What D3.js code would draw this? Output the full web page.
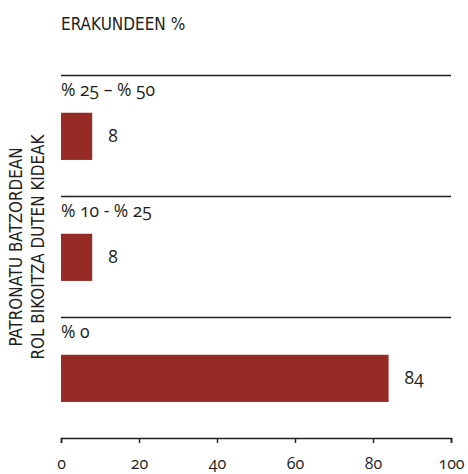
<!DOCTYPE html>
<html>
<head>
<meta charset="utf-8">
<script src="https://cdn.jsdelivr.net/npm/d3@7"></script>
<style>
  html, body { margin: 0; padding: 0; background: #fff; }
  svg { display: block; }
  .num { font-family: "Open Sans", "Noto Sans", sans-serif; font-variant-numeric: oldstyle-nums; font-feature-settings: "onum" 1; }
  .cond { font-family: "Liberation Sans Narrow", "DejaVu Sans Condensed", "Liberation Sans", sans-serif; }
</style>
</head>
<body>
<svg id="chart" width="468" height="474"></svg>
<script>
const categories = ["% 25 – % 50", "% 10 - % 25", "% 0"];
const values = [8, 8, 84];
const tickValues = [0, 20, 40, 60, 80, 100];
const title = "ERAKUNDEEN %";
const yTitle = ["PATRONATU BATZORDEAN", "ROL BIKOITZA DUTEN KIDEAK"];

(function () {
const svg = d3.select("#chart");
const mLeft = 61, mRight = 451, mTop = 75, mBottom = 438;
const barColor = "#962b26";
const ink = "#231f20";

const x = d3.scaleLinear().domain([0, 100]).range([mLeft, mRight]);
const y = d3.scaleBand().domain(categories).range([mTop, mBottom]).paddingInner(0).paddingOuter(0);
const step = y.step();

// title
svg.append("text").attr("class", "cond")
  .attr("x", mLeft).attr("y", 30)
  .attr("font-size", 17).attr("fill", ink)
  .text(title);

// y-axis title (rotated, two lines)
const yt = svg.append("text").attr("class", "cond")
  .attr("transform", `translate(25,247) rotate(-90)`)
  .attr("text-anchor", "middle").attr("font-size", 17.5).attr("fill", ink);
const spans = yt.selectAll("tspan").data(yTitle).join("tspan")
  .attr("x", 0).attr("dy", (d, i) => i === 0 ? -3 : 21.5)
  .text(d => d);
// fit second line to ~225px
const len = spans.nodes()[1].getComputedTextLength();
if (len > 0) {
  const fs = 17.5 * 225 / len;
  yt.attr("font-size", Math.max(15, Math.min(19, fs)));
}

const g = svg.append("g").selectAll("g").data(categories).join("g")
  .attr("transform", d => `translate(0,${y(d)})`);

// separator lines
g.append("line")
  .attr("x1", mLeft).attr("x2", mRight).attr("y1", 0.5).attr("y2", 0.5)
  .attr("stroke", ink).attr("stroke-width", 1.4);

// category labels
g.append("text").attr("class", "num")
  .attr("x", mLeft).attr("y", step * 0.124).attr("dy", "0.35em")
  .attr("font-size", 17.5).attr("fill", ink)
  .text(d => d);

// bars
const barTop = step * 0.312, barH = step * 0.39;
g.append("rect")
  .attr("x", x(0)).attr("y", barTop)
  .attr("width", (d, i) => x(values[i]) - x(0))
  .attr("height", barH)
  .attr("fill", barColor);

// value labels
g.append("text").attr("class", "num")
  .attr("x", (d, i) => x(values[i]) + 16)
  .attr("y", barTop + barH / 2).attr("dy", "0.35em")
  .attr("font-size", 17.5).attr("fill", ink)
  .text((d, i) => values[i]);

// x axis
const axis = svg.append("g").attr("transform", `translate(0,${mBottom})`)
  .call(d3.axisBottom(x).tickValues(tickValues).tickSize(5).tickSizeOuter(5).tickPadding(15));
axis.select(".domain").attr("stroke", ink).attr("stroke-width", 1.6);
axis.selectAll(".tick line").attr("stroke", ink).attr("stroke-width", 1.4);
axis.selectAll(".tick text").attr("class", "num")
  .attr("font-size", 16).attr("fill", ink);
})();
</script>
</body>
</html>
